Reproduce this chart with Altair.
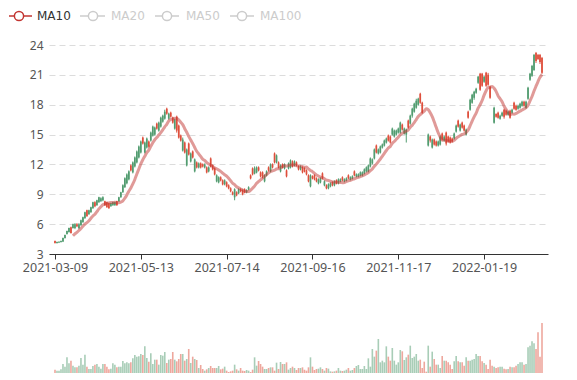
import altair as alt
import pandas as pd

# ---- daily candles (open, close, low, high); None = no trade drawn ----
opens = [4.3,4.1,4.15,4.2,4.25,4.6,5.0,5.2,5.7,5.6, 5.6,6.0,5.6,5.9,6.2,6.6,7.4,7.0,7.2,7.6,
         8.2,7.9,8.2,8.3,8.4,8.3,8.2,8.1,7.8,7.9, 7.9,8.3,8.3,8.7,9.2,9.7,10.1,10.5,11.9,11.2,
         11.8,12.2,12.7,13.2,14.7,13.2,13.7,14.3,14.4,14.9, 15.0,16.1,15.4,15.8,16.3,16.6,17.6,16.6,17.2,16.7,
         15.6,16.8,15.9,14.9,13.4,14.2,11.9,14.1,12.3,13.3, 11.3,12.2,11.7,12.1,12.0,11.7,11.7,11.3,12.6,11.9,
         11.6,10.3,10.2,10.7,10.4,10.0,10.2,9.9,9.6,9.2, 8.7,9.2,9.1,9.5,9.4,9.5,9.2,9.5,10.9,11.6,
         11.1,11.2,11.7,11.2,11.2,10.3,10.9,11.7,11.3,12.0, 13.1,12.2,12.2,11.3,12.0,11.6,11.4,11.6,11.7,12.3,
         11.9,12.2,11.8,11.5,11.7,11.6,11.4,10.9,9.8,10.8, 10.9,10.6,10.1,10.2,11.1,9.9,9.9,9.6,9.8,10.2,
         9.9,10.4,10.1,10.3,10.7,10.3,10.4,10.9,10.5,10.6, 11.3,10.8,10.8,10.9,10.9,11.1,11.3,11.3,11.8,12.1,
         12.6,13.9,13.1,13.2,13.7,13.9,14.2,14.9,14.8,15.0, 14.8,15.0,15.2,15.2,16.0,15.1,15.0,16.4,16.1,16.9,
         17.3,17.7,18.0,19.1,18.2,None,None,13.9,14.8,13.7, 14.5,14.3,13.9,14.0,15.1,14.4,15.2,14.8,14.7,14.6,
         14.6,15.3,16.4,15.4,16.2,15.9,15.0,17.3,17.5,18.2, 18.7,19.2,20.2,21.1,21.1,20.3,21.2,21.0,19.8,None,
         16.2,17.1,17.2,16.6,16.9,17.5,17.4,17.0,17.4,17.2, 18.2,17.9,17.6,17.7,17.9,18.3,17.7,18.6,20.5,20.9,
         21.5,23.2,23.0,23.0,22.7]
closes = [4.1,4.2,4.2,4.3,4.6,4.9,5.3,5.6,5.1,6.0, 6.0,5.8,6.0,6.4,6.7,7.2,6.8,7.4,7.7,8.2,
          7.8,8.4,8.7,8.6,8.7,7.9,7.7,7.6,8.1,8.2, 8.2,7.9,8.7,9.2,9.9,10.6,11.0,11.3,11.4,12.2,
          12.7,13.3,13.8,14.3,14.1,14.2,14.6,13.8,15.2,15.8, 15.7,15.6,16.2,16.7,16.9,17.3,17.1,17.1,16.8,16.2,
          16.5,15.4,14.7,14.4,14.5,13.2,13.5,13.0,13.1,12.7, 12.5,11.7,12.1,11.7,11.8,12.0,11.2,11.7,11.8,11.5,
          11.0,10.9,10.7,10.4,10.0,10.4,9.8,9.6,9.3,9.0, 9.5,8.9,9.5,9.3,9.0,9.2,9.4,9.7,10.6,11.0,
          11.6,11.7,11.4,10.8,10.8,10.9,11.3,11.4,12.0,11.7, 12.2,12.9,11.7,11.9,11.7,12.0,10.8,12.1,12.4,11.8,
          12.3,11.9,11.5,11.8,11.2,11.3,11.0,10.3,10.9,10.6, 10.5,10.3,10.5,10.6,10.6,10.3,9.6,10.0,10.1,9.9,
          10.3,10.1,10.5,10.5,10.4,10.5,10.6,10.6,10.7,10.8, 10.9,11.0,11.0,11.2,11.2,11.5,11.7,11.9,12.6,12.5,
          13.5,13.2,13.5,13.8,14.0,14.4,14.6,14.4,14.2,15.6, 15.4,15.4,15.6,16.2,15.5,15.6,15.5,15.7,16.9,17.6,
          18.1,18.4,18.6,18.2,17.2,None,None,15.0,14.4,14.5, 14.0,13.9,14.3,14.8,14.5,14.8,14.1,14.3,14.2,14.3,
          15.1,15.9,15.8,16.0,15.7,15.4,15.5,16.7,18.5,19.0, 19.3,19.6,20.8,19.5,19.9,20.8,19.9,20.0,18.7,None,
          17.7,16.8,16.7,16.9,17.2,16.8,17.0,17.3,16.7,17.5, 17.6,17.5,17.9,18.1,18.3,17.9,18.3,19.7,21.1,21.9,
          23.0,22.4,22.6,22.3,21.2]
lows = [4.05,4.05,4.1,4.15,4.2,4.55,4.95,5.15,5.05,5.55, 5.5,5.7,5.5,5.85,6.15,6.55,6.75,6.95,7.15,7.55,
        7.7,7.85,8.15,8.25,8.3,7.85,7.65,7.55,7.75,7.85, 7.85,7.85,8.25,8.65,9.15,9.65,10.0,10.4,11.3,11.1,
        11.7,12.1,12.6,13.1,14.0,13.1,13.6,13.7,14.3,14.8, 14.9,15.5,15.3,15.7,16.2,16.5,17.0,16.5,16.7,16.1,
        15.5,15.2,14.6,14.3,13.3,13.1,11.8,12.9,12.2,12.6, 11.2,11.6,11.6,11.6,11.7,11.6,11.1,11.2,11.7,11.4,
        10.9,10.2,10.1,10.3,9.9,9.9,9.7,9.5,9.2,8.9, 8.4,8.8,9.0,9.2,8.9,9.1,9.1,9.4,10.5,10.9,
        11.0,11.1,11.3,10.7,10.6,10.2,10.8,11.3,11.2,11.6, 12.1,12.1,11.6,11.2,11.6,11.5,10.7,11.5,11.6,11.7,
        11.8,11.8,11.4,11.4,11.1,11.2,10.9,10.2,9.7,10.5, 10.4,10.2,10.0,10.1,10.5,9.8,9.5,9.5,9.7,9.8,
        9.8,10.0,10.0,10.2,10.3,10.2,10.3,10.5,10.4,10.5, 10.8,10.7,10.7,10.8,10.8,11.0,11.2,11.2,11.7,12.0,
        12.5,13.1,13.0,13.1,13.6,13.8,14.1,14.3,14.1,14.9, 14.7,14.9,15.1,15.1,15.4,15.0,14.2,15.6,16.0,16.7,
        17.2,17.6,17.9,18.1,17.1,None,None,13.8,14.2,13.6, 13.9,13.8,13.8,13.9,14.4,14.3,13.9,14.2,14.1,14.2,
        14.5,15.2,15.7,15.3,15.6,15.3,14.9,16.6,17.4,18.1, 18.5,19.1,20.1,19.4,19.8,20.2,19.8,19.9,18.6,None,
        16.1,16.7,16.6,16.5,16.8,16.6,16.9,16.9,16.6,17.1, 17.5,17.4,17.5,17.6,17.8,17.8,17.6,18.5,20.4,20.8,
        21.4,22.2,22.5,22.1,21.1]
highs = [4.35,4.25,4.3,4.35,4.65,4.95,5.35,5.65,5.75,6.05, 6.1,6.1,6.1,6.45,6.75,7.25,7.45,7.45,7.75,8.25,
         8.3,8.45,8.75,8.7,8.8,8.35,8.25,8.15,8.15,8.25, 8.25,8.35,8.75,9.25,10.0,10.7,11.1,11.4,12.0,12.3,
         12.8,13.4,13.9,14.4,14.8,14.3,14.7,14.4,15.3,15.9, 15.8,16.2,16.3,16.8,17.0,17.5,17.7,17.2,17.3,16.8,
         16.6,16.9,16.0,15.0,14.7,14.3,13.6,14.2,13.2,13.4, 12.6,12.3,12.2,12.2,12.1,12.1,11.8,11.8,12.7,12.0,
         11.7,11.0,10.8,10.8,10.5,10.5,10.3,10.0,9.7,9.3, 9.6,9.3,9.6,9.6,9.5,9.6,9.5,9.8,11.0,11.7,
         11.8,11.8,11.8,11.3,11.3,11.0,11.4,11.8,12.1,12.1, 13.2,13.0,12.3,12.0,12.1,12.1,11.5,12.2,12.5,12.4,
         12.4,12.3,11.9,11.9,11.8,11.7,11.5,11.0,11.0,10.9, 11.0,10.7,10.6,10.7,11.2,10.4,10.0,10.1,10.2,10.3,
         10.4,10.5,10.6,10.6,10.8,10.6,10.7,11.0,10.8,10.9, 11.4,11.1,11.1,11.3,11.3,11.6,11.8,12.0,12.7,12.6,
         13.6,14.0,13.6,13.9,14.1,14.5,14.7,15.0,14.9,15.7, 15.5,15.5,15.7,16.3,16.1,15.7,15.6,16.5,17.0,17.7,
         18.2,18.6,18.7,19.2,18.3,None,None,15.1,14.9,14.6, 14.6,14.4,14.4,14.9,15.2,14.9,15.3,14.9,14.8,14.7,
         15.2,16.0,16.5,16.1,16.3,16.0,15.6,17.4,18.6,19.1, 19.4,19.7,20.9,21.2,21.2,20.9,21.3,21.2,19.9,None,
         17.8,17.1,17.3,17.0,17.3,17.6,17.5,17.4,17.5,17.6, 18.3,18.0,18.0,18.2,18.4,18.4,18.4,19.8,21.2,22.0,
         23.1,23.3,23.1,23.1,22.8]
volumes = [10,7,7,11,27,19,47,29,37,22, 17,17,22,45,25,55,19,12,12,21,
           25,27,19,13,27,27,19,11,13,29, 25,17,19,19,36,29,32,29,32,44,
           54,49,50,57,54,80,45,34,59,27, 40,40,25,54,52,63,30,40,42,63,
           40,35,42,57,57,37,42,72,30,49, 42,39,15,24,12,7,11,15,21,15,
           15,15,21,11,13,19,7,3,5,7, 25,11,7,15,7,6,9,7,3,10,
           47,22,36,27,19,12,12,15,17,17, 7,31,12,33,
           27,27,32,10,15,19,15,9,15,15, 17,10,7,17,47,19,9,12,13,17,
           12,7,15,13,5,4,5,7,15,7, 6,7,10,15,7,9,15,21,24,12,
           12,21,12,44,19,72,49,67,102,32, 37,32,80,49,37,75,37,25,32,69,
           65,39,47,55,82,45,49,57,37,40, 15,34,4,82,19,64,42,25,25,15,
           51,37,37,32,25,12,35,51,35,32, 32,22,47,37,37,40,42,57,51,51,
           35,30,25,12,40,22,19,15,17,19, 19,13,11,12,19,17,17,22,27,32,
           32,25,27,77,82,95,89,72,122,49, 150]

tick_idx = [0, 43, 86, 129, 172, 215]
tick_labels = ["2021-03-09", "2021-05-13", "2021-07-14", "2021-09-16", "2021-11-17", "2022-01-19"]
y_ticks = [3, 6, 9, 12, 15, 18, 21, 24]
legend_names = ["MA10", "MA20", "MA50", "MA100"]

GREEN = "#529c70"
RED = "#de4f3c"
FONT = "Noto Sans"
LEG_FONT = "DejaVu Sans"
N = len(closes)

df = pd.DataFrame({"idx": list(range(N)), "open": opens, "close": closes,
                   "low": lows, "high": highs, "volume": volumes})
df["dir"] = ["up" if (c is not None and o is not None and c > o) else "down"
             for o, c in zip(opens, closes)]

label_expr = "".join(f"datum.value == {i} ? '{l}' : " for i, l in zip(tick_idx, tick_labels)) + "''"
xscale = alt.Scale(domain=[-0.5, N - 0.5], nice=False, zero=False)
yscale = alt.Scale(domain=[3, 24], nice=False, zero=False)
color = alt.Color("dir:N", scale=alt.Scale(domain=["up", "down"], range=[GREEN, RED]), legend=None)

x_axis = alt.Axis(values=tick_idx, tickCount=len(tick_idx), labelExpr=label_expr, grid=False,
                  title=None, domainColor="#333", tickColor="#333", tickSize=5,
                  labelColor="#555", labelFontSize=12.5, labelFont=FONT,
                  labelPadding=2, labelFlush=False, labelOverlap=False)
y_axis = alt.Axis(values=y_ticks, tickCount=len(y_ticks), grid=True, gridDash=[6, 4],
                  gridColor="#dcdcdc", domain=False, ticks=False, labelPadding=6, title=None,
                  labelOverlap=False, labelFlush=False,
                  labelColor="#555", labelFontSize=12, labelFont=FONT)

base = alt.Chart(df).transform_filter("isValid(datum.close)")
wicks = base.mark_rule(strokeWidth=1).encode(
    x=alt.X("idx:Q", scale=xscale, axis=x_axis),
    y=alt.Y("low:Q", scale=yscale, axis=y_axis), y2="high:Q", color=color)
bodies = base.mark_bar(size=1.7).encode(
    x=alt.X("idx:Q", scale=xscale, axis=x_axis),
    y=alt.Y("open:Q", scale=yscale, axis=y_axis), y2="close:Q", color=color)
ma = alt.Chart(df).transform_window(
    ma10="mean(close)", frame=[-9, 0], sort=[alt.SortField("idx")]
).transform_filter("datum.idx >= 9").mark_line(
    color="#c23531", opacity=0.5, strokeWidth=3, interpolate="monotone"
).encode(x=alt.X("idx:Q", scale=xscale, axis=x_axis),
         y=alt.Y("ma10:Q", scale=yscale, axis=y_axis), order="idx:Q")

# legend (drawn as marks, positions relative to plot origin)
leg_layers = []
items = [(-40, -17, -30, -12), (31, 56, 44, 62), (106, 130, 118, 137), (181, 205, 193, 211)]
LEG_Y = -29
for k, (nm, (x1, x2, cx, tx)) in enumerate(zip(legend_names, items)):
    col = "#c23531" if k == 0 else "#cccccc"
    tcol = "#333333" if k == 0 else "#cccccc"
    d = pd.DataFrame({"name": [nm]})
    leg_layers.append(alt.Chart(d).mark_rule(color=col, strokeWidth=1.5).encode(
        x=alt.value(x1), x2=alt.value(x2), y=alt.value(LEG_Y)))
    leg_layers.append(alt.Chart(d).mark_point(shape="circle", size=85, filled=True, fill="white",
                                              stroke=col, strokeWidth=1.5, opacity=1).encode(
        x=alt.value(cx), y=alt.value(LEG_Y)))
    leg_layers.append(alt.Chart(d).mark_text(align="left", baseline="middle", fontSize=12,
                                             font=LEG_FONT, color=tcol).encode(
        x=alt.value(tx), y=alt.value(LEG_Y), text="name:N"))

main = alt.layer(wicks, bodies, ma, *leg_layers).properties(width=499, height=209)

vol = alt.Chart(df).mark_bar(size=1.6, opacity=0.5).encode(
    x=alt.X("idx:Q", scale=xscale,
            axis=alt.Axis(labels=False, ticks=False, grid=False, title=None, domainColor="#333")),
    y=alt.Y("volume:Q", scale=alt.Scale(domain=[0, 150], nice=False), axis=None),
    color=color,
).properties(width=499, height=50)

chart = alt.vconcat(main, vol, spacing=49).properties(padding=0).configure_view(stroke=None)
chart.save("out.html", embed_options={"renderer": "svg", "actions": False})
